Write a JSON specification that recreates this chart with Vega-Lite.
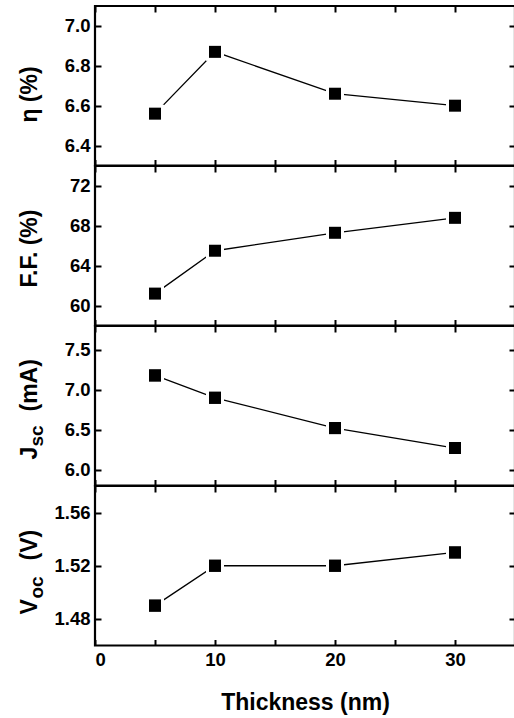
{
  "$schema": "https://vega.github.io/schema/vega-lite/v6.json",
  "autosize": {"type": "pad"},
  "padding": {"left": 16, "top": 3, "right": 0, "bottom": 5},
  "background": "white",
  "data": {
    "values": [
      {"t": 5, "eta": 6.56, "ff": 61.2, "jsc": 7.18, "voc": 1.49},
      {"t": 10, "eta": 6.87, "ff": 65.5, "jsc": 6.90, "voc": 1.52},
      {"t": 20, "eta": 6.66, "ff": 67.3, "jsc": 6.52, "voc": 1.52},
      {"t": 30, "eta": 6.60, "ff": 68.8, "jsc": 6.27, "voc": 1.53}
    ]
  },
  "spacing": 0,
  "bounds": "flush",
  "vconcat": [
    {
      "width": 420, "height": 159.5,
      "layer": [
        {"mark": {"type": "line", "color": "black", "strokeWidth": 1.3},
         "encoding": {
           "x": {"field": "t", "type": "quantitative", "scale": {"domain": [0, 35], "nice": false},
                 "axis": {"orient": "bottom", "values": [0, 5, 10, 15, 20, 25, 30], "labels": false, "title": null}},
           "y": {"field": "eta", "type": "quantitative", "scale": {"domain": [6.3, 7.1], "nice": false, "zero": false},
                 "axis": {"orient": "left", "values": [6.4, 6.6, 6.8, 7.0], "format": ".1f", "title": "η (%)",
                          "titleAngle": 270, "titleX": -59, "titleY": 88, "titleAlign": "center", "titleBaseline": "alphabetic"}}}},
        {"mark": {"type": "point", "shape": "square", "filled": true, "color": "white", "opacity": 1, "size": 324},
         "encoding": {
           "x": {"field": "t", "type": "quantitative", "axis": {"orient": "top", "values": [0, 5, 10, 15, 20, 25, 30], "labels": false, "title": null}},
           "y": {"field": "eta", "type": "quantitative", "axis": {"orient": "right", "values": [6.4, 6.6, 6.8, 7.0], "labels": false, "title": null}}}},
        {"mark": {"type": "point", "shape": "square", "filled": true, "color": "black", "opacity": 1, "size": 144},
         "encoding": {
           "x": {"field": "t", "type": "quantitative", "axis": null},
           "y": {"field": "eta", "type": "quantitative", "axis": null}}}
      ],
      "resolve": {"axis": {"x": "independent", "y": "independent"}}
    },
    {
      "width": 420, "height": 159.5,
      "layer": [
        {"mark": {"type": "line", "color": "black", "strokeWidth": 1.3},
         "encoding": {
           "x": {"field": "t", "type": "quantitative", "scale": {"domain": [0, 35], "nice": false},
                 "axis": {"orient": "bottom", "values": [0, 5, 10, 15, 20, 25, 30], "labels": false, "title": null}},
           "y": {"field": "ff", "type": "quantitative", "scale": {"domain": [58, 74], "nice": false, "zero": false},
                 "axis": {"orient": "left", "values": [60, 64, 68, 72], "format": "d", "title": "F.F. (%)",
                          "titleAngle": 270, "titleX": -59, "titleY": 82, "titleAlign": "center", "titleBaseline": "alphabetic"}}}},
        {"mark": {"type": "point", "shape": "square", "filled": true, "color": "white", "opacity": 1, "size": 324},
         "encoding": {
           "x": {"field": "t", "type": "quantitative", "axis": {"orient": "top", "values": [0, 5, 10, 15, 20, 25, 30], "labels": false, "title": null}},
           "y": {"field": "ff", "type": "quantitative", "axis": {"orient": "right", "values": [60, 64, 68, 72], "labels": false, "title": null}}}},
        {"mark": {"type": "point", "shape": "square", "filled": true, "color": "black", "opacity": 1, "size": 144},
         "encoding": {
           "x": {"field": "t", "type": "quantitative", "axis": null},
           "y": {"field": "ff", "type": "quantitative", "axis": null}}}
      ],
      "resolve": {"axis": {"x": "independent", "y": "independent"}}
    },
    {
      "width": 420, "height": 159.5,
      "layer": [
        {"mark": {"type": "line", "color": "black", "strokeWidth": 1.3},
         "encoding": {
           "x": {"field": "t", "type": "quantitative", "scale": {"domain": [0, 35], "nice": false},
                 "axis": {"orient": "bottom", "values": [0, 5, 10, 15, 20, 25, 30], "labels": false, "title": null}},
           "y": {"field": "jsc", "type": "quantitative", "scale": {"domain": [5.8, 7.8], "nice": false, "zero": false},
                 "axis": {"orient": "left", "values": [6.0, 6.5, 7.0, 7.5], "format": ".1f", "title": "(mA)",
                          "titleAngle": 270, "titleX": -59, "titleY": 85, "titleAlign": "left", "titleBaseline": "alphabetic"}}}},
        {"mark": {"type": "point", "shape": "square", "filled": true, "color": "white", "opacity": 1, "size": 324},
         "encoding": {
           "x": {"field": "t", "type": "quantitative", "axis": {"orient": "top", "values": [0, 5, 10, 15, 20, 25, 30], "labels": false, "title": null}},
           "y": {"field": "jsc", "type": "quantitative", "axis": {"orient": "right", "values": [6.0, 6.5, 7.0, 7.5], "labels": false, "title": null}}}},
        {"mark": {"type": "point", "shape": "square", "filled": true, "color": "black", "opacity": 1, "size": 144},
         "encoding": {
           "x": {"field": "t", "type": "quantitative", "axis": null},
           "y": {"field": "jsc", "type": "quantitative",
                 "axis": {"orient": "left", "labels": false, "ticks": false, "domain": false, "title": "J",
                          "titleAngle": 270, "titleX": -59, "titleY": 133, "titleAlign": "left", "titleBaseline": "alphabetic"}}}},
        {"mark": {"type": "point", "shape": "square", "filled": true, "color": "black", "opacity": 1, "size": 144},
         "encoding": {
           "x": {"field": "t", "type": "quantitative", "axis": null},
           "y": {"field": "jsc", "type": "quantitative",
                 "axis": {"orient": "left", "labels": false, "ticks": false, "domain": false, "title": "sc", "titleFontSize": 19,
                          "titleAngle": 270, "titleX": -53, "titleY": 120, "titleAlign": "left", "titleBaseline": "alphabetic"}}}}
      ],
      "resolve": {"axis": {"x": "independent", "y": "independent"}}
    },
    {
      "width": 420, "height": 159.5,
      "layer": [
        {"mark": {"type": "line", "color": "black", "strokeWidth": 1.3},
         "encoding": {
           "x": {"field": "t", "type": "quantitative", "scale": {"domain": [0, 35], "nice": false},
                 "axis": {"orient": "bottom", "values": [0, 5, 10, 15, 20, 25, 30],
                          "labelExpr": "datum.value % 10 === 0 ? datum.label : ''",
                          "title": "Thickness (nm)", "titleY": 64, "titleBaseline": "alphabetic"}},
           "y": {"field": "voc", "type": "quantitative", "scale": {"domain": [1.46, 1.58], "nice": false, "zero": false},
                 "axis": {"orient": "left", "values": [1.48, 1.52, 1.56], "format": ".2f", "title": "(V)",
                          "titleAngle": 270, "titleX": -59, "titleY": 74, "titleAlign": "left", "titleBaseline": "alphabetic"}}}},
        {"mark": {"type": "point", "shape": "square", "filled": true, "color": "white", "opacity": 1, "size": 324},
         "encoding": {
           "x": {"field": "t", "type": "quantitative", "axis": {"orient": "top", "values": [0, 5, 10, 15, 20, 25, 30], "labels": false, "title": null}},
           "y": {"field": "voc", "type": "quantitative", "axis": {"orient": "right", "values": [1.48, 1.52, 1.56], "labels": false, "title": null}}}},
        {"mark": {"type": "point", "shape": "square", "filled": true, "color": "black", "opacity": 1, "size": 144},
         "encoding": {
           "x": {"field": "t", "type": "quantitative", "axis": null},
           "y": {"field": "voc", "type": "quantitative",
                 "axis": {"orient": "left", "labels": false, "ticks": false, "domain": false, "title": "V",
                          "titleAngle": 270, "titleX": -59, "titleY": 128, "titleAlign": "left", "titleBaseline": "alphabetic"}}}},
        {"mark": {"type": "point", "shape": "square", "filled": true, "color": "black", "opacity": 1, "size": 144},
         "encoding": {
           "x": {"field": "t", "type": "quantitative", "axis": null},
           "y": {"field": "voc", "type": "quantitative",
                 "axis": {"orient": "left", "labels": false, "ticks": false, "domain": false, "title": "oc", "titleFontSize": 19,
                          "titleAngle": 270, "titleX": -53, "titleY": 112, "titleAlign": "left", "titleBaseline": "alphabetic"}}}}
      ],
      "resolve": {"axis": {"x": "independent", "y": "independent"}}
    }
  ],
  "config": {
    "font": "Liberation Sans",
    "view": {"stroke": "black", "strokeWidth": 2.2},
    "axis": {
      "domain": false,
      "grid": false,
      "ticks": true,
      "tickColor": "black",
      "tickWidth": 2,
      "tickSize": -6,
      "labelPadding": 11,
      "labelFont": "Liberation Sans",
      "labelFontSize": 18.5,
      "labelFontWeight": "bold",
      "labelColor": "black",
      "titleFont": "Liberation Sans",
      "titleFontSize": 23,
      "titleFontWeight": "bold",
      "titleColor": "black"
    }
  }
}
